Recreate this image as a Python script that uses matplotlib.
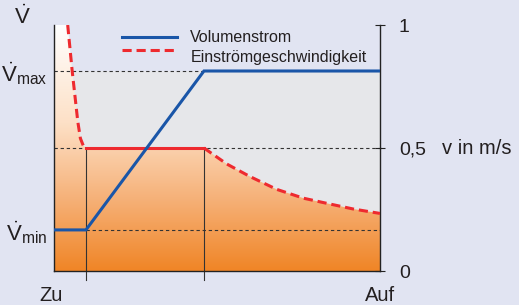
import matplotlib.pyplot as plt
import numpy as np
from matplotlib.colors import LinearSegmentedColormap

plt.rcParams['font.family'] = ['Liberation Sans', 'DejaVu Sans']
plt.rcParams['mathtext.fontset'] = 'custom'
plt.rcParams['mathtext.rm'] = 'Liberation Sans'
plt.rcParams['mathtext.it'] = 'Liberation Sans'

# valve position 0 (Zu) .. 1 (Auf)
pos_flow = [0.0, 0.098, 0.46, 1.0]
flow = [0.167, 0.167, 0.813, 0.813]      # Volumenstrom (relative)
v_min_level = 0.167
v_max_level = 0.813

# Einströmgeschwindigkeit (m/s): falling branch, plateau, decay
pos_left = [0.042, 0.049, 0.056, 0.064, 0.073, 0.081, 0.090, 0.098]
speed_left = [1.0, 0.905, 0.810, 0.715, 0.607, 0.539, 0.509, 0.5]
pos_right = [0.46, 0.530, 0.601, 0.683, 0.765, 0.837, 0.918, 1.0]
speed_right = [0.5, 0.435, 0.384, 0.332, 0.296, 0.275, 0.252, 0.234]

right_ticks = [0, 0.5, 1]
right_labels = ['0', '0,5', '1']

bg = '#e1e4f2'
txt = '#231f20'
fig = plt.figure(figsize=(5.19, 3.05), dpi=100, facecolor=bg)
ax = fig.add_axes([54/519, 34/305, 326/519, 246/305])
ax.set_facecolor(bg)
ax.set_xlim(0, 1)
ax.set_ylim(0, 1)

# grey box below Vmax
ax.fill_between([0, 1], 0, v_max_level, color='#e6e7ea', zorder=0.5, lw=0)

# gradient fill under the speed curve
cmap = LinearSegmentedColormap.from_list('og', [(0, '#f08526'), (0.3, '#f6b27a'),
                                                 (0.6, '#fde0c6'), (1, '#ffffff')])
grad = np.linspace(0, 1, 256).reshape(-1, 1)
im = ax.imshow(grad, extent=[0, 1, 0, 1], aspect='auto', origin='lower', cmap=cmap, zorder=1)
px = [0, 0] + pos_left + pos_right + [1]
py = [0, 1] + speed_left + speed_right + [0]
poly = ax.fill(px, py, color='none', lw=0)[0]
im.set_clip_path(poly)

# reference lines
dk = '#333333'
dash = (0, (3, 2.5))
ax.plot([0, 0.46], [v_max_level, v_max_level], color=dk, lw=0.8, ls=dash, zorder=2)
ax.plot([0, 1.01], [0.5, 0.5], color=dk, lw=0.8, ls=dash, zorder=2, clip_on=False)
ax.plot([0.098, 1], [v_min_level, v_min_level], color=dk, lw=0.8, ls=dash, zorder=2)
for xv in [pos_flow[1], pos_flow[2]]:
    ax.plot([xv, xv], [0.5, -0.037], color=dk, lw=0.8, zorder=2, clip_on=False)

# curves
blue = '#1a56a8'
red = '#ee2a2f'
ax.plot(pos_flow, flow, color=blue, lw=2.2, zorder=4, solid_joinstyle='miter')
ax.plot(pos_left, speed_left, color=red, lw=2.2, dashes=(3, 1.6), zorder=3)
ax.plot([pos_left[-1], pos_right[0]], [speed_left[-1], speed_right[0]], color=red, lw=2.2, zorder=3)
ax.plot(pos_right, speed_right, color=red, lw=2.2, dashes=(3, 1.6), zorder=3)

# spines / ticks
ax.spines['top'].set_visible(False)
for s in ['left', 'right', 'bottom']:
    ax.spines[s].set_color('#222222')
    ax.spines[s].set_linewidth(1.0)
ax.set_xticks([])
ax.set_yticks([])
ax2 = ax.twinx()
ax2.set_ylim(0, 1)
for s in ['top', 'left', 'bottom', 'right']:
    ax2.spines[s].set_visible(False)
ax2.set_yticks(right_ticks)
ax2.set_yticklabels(right_labels)
ax2.tick_params(axis='y', direction='inout', length=7, width=0.8, color='#222222',
                labelsize=14, pad=10, labelcolor=txt)

ax.text(1.19, 0.5, 'v in m/s', ha='left', va='center', fontsize=14.5, color=txt, clip_on=False)
ax.text(-0.01, -0.098, 'Zu', ha='center', va='center', fontsize=14.5, color=txt)
ax.text(1.0, -0.098, 'Auf', ha='center', va='center', fontsize=14.5, color=txt)

ax.text(-0.098, 1.03, r'$\dot{\mathrm{V}}$', ha='center', va='center', fontsize=16, color=txt)
ax.text(-0.02, v_max_level - 0.01, r'$\dot{\mathrm{V}}_{\mathrm{max}}$', ha='right', va='center',
        fontsize=16, color=txt)
ax.text(-0.02, v_min_level - 0.01, r'$\dot{\mathrm{V}}_{\mathrm{min}}$', ha='right', va='center',
        fontsize=16, color=txt)

# legend
ax.plot([0.21, 0.377], [0.95, 0.95], color=blue, lw=2.2, zorder=5)
ax.plot([0.21, 0.377], [0.897, 0.897], color=red, lw=2.2, dashes=(3, 1.6), zorder=5)
ax.text(0.418, 0.948, 'Volumenstrom', ha='left', va='center', fontsize=11.5, color=txt)
ax.text(0.418, 0.867, 'Einströmgeschwindigkeit', ha='left', va='center', fontsize=11.5, color=txt)

fig.savefig('out.png', dpi=100, facecolor=bg)
